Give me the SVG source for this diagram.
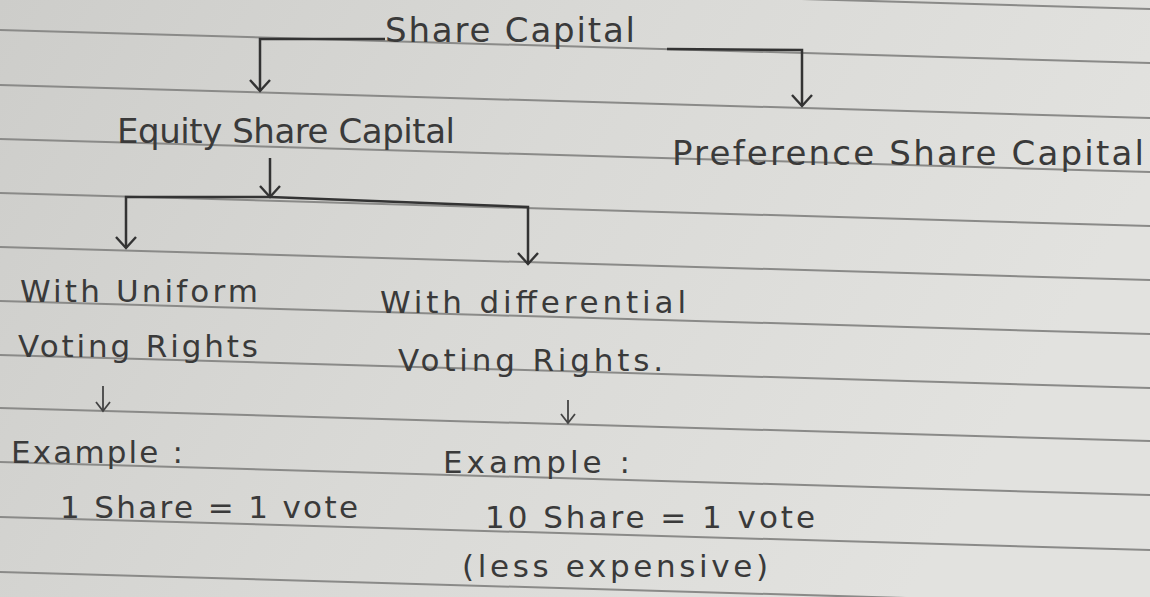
<svg xmlns="http://www.w3.org/2000/svg" width="1150" height="597" viewBox="0 0 1150 597">
<defs>
<linearGradient id="paper" x1="0" y1="0" x2="1" y2="0.3">
<stop offset="0" stop-color="#cdcdca"/>
<stop offset="0.5" stop-color="#d9d9d6"/>
<stop offset="1" stop-color="#e2e2df"/>
</linearGradient>
<marker id="arr" markerWidth="26" markerHeight="26" refX="13" refY="13" orient="auto" markerUnits="userSpaceOnUse">
<path d="M2,3 L13,13 L2,23" fill="none" stroke="#333" stroke-width="2.4"/>
</marker>
<marker id="arrs" markerWidth="20" markerHeight="20" refX="10" refY="10" orient="auto" markerUnits="userSpaceOnUse">
<path d="M1,3 L10,10 L1,17" fill="none" stroke="#444" stroke-width="1.8"/>
</marker>
<style>
.t{font-family:"DejaVu Sans","Liberation Sans",sans-serif;fill:#3a3a3a;font-size:31px}
.big{font-size:34px}
.rule{stroke:#8a8a88;stroke-width:2;fill:none}
.c{stroke:#333;stroke-width:2.5;fill:none}
.s{stroke:#444;stroke-width:1.8;fill:none}
</style>
</defs>
<rect width="1150" height="597" fill="url(#paper)"/>
<g id="rules">
<line class="rule" x1="0" y1="-24" x2="1150" y2="9"/>
<line class="rule" x1="0" y1="30" x2="1150" y2="63"/>
<line class="rule" x1="0" y1="85" x2="1150" y2="118"/>
<line class="rule" x1="0" y1="139" x2="1150" y2="172"/>
<line class="rule" x1="0" y1="193" x2="1150" y2="226"/>
<line class="rule" x1="0" y1="247" x2="1150" y2="280"/>
<line class="rule" x1="0" y1="301" x2="1150" y2="334"/>
<line class="rule" x1="0" y1="355" x2="1150" y2="388"/>
<line class="rule" x1="0" y1="408" x2="1150" y2="441"/>
<line class="rule" x1="0" y1="462" x2="1150" y2="495"/>
<line class="rule" x1="0" y1="517" x2="1150" y2="550"/>
<line class="rule" x1="0" y1="572" x2="1150" y2="605"/>
</g>
<g id="connectors">
<path class="c" d="M385,39 L260,39 L260,91" marker-end="url(#arr)"/>
<path class="c" d="M667,49 L802,50 L802,106" marker-end="url(#arr)"/>
<path class="c" d="M270,158 L270,197" marker-end="url(#arr)"/>
<path class="c" d="M270,197 L126,197 L126,248" marker-end="url(#arr)"/>
<path class="c" d="M270,197 L528,207 L528,264" marker-end="url(#arr)"/>
<path class="s" d="M103,386 L103,411" marker-end="url(#arrs)"/>
<path class="s" d="M568,400 L568,423" marker-end="url(#arrs)"/>
</g>
<g id="share-capital"><text class="t big" x="385" y="42" textLength="250">Share Capital</text></g>
<g id="equity"><text class="t big" x="117" y="143" textLength="338">Equity Share Capital</text></g>
<g id="preference"><text class="t big" x="672" y="165" textLength="472">Preference Share Capital</text></g>
<g id="uniform">
<text class="t" x="20" y="302" textLength="238">With Uniform</text>
<text class="t" x="18" y="357" textLength="240">Voting Rights</text>
</g>
<g id="differential">
<text class="t" x="380" y="313" textLength="306">With differential</text>
<text class="t" x="398" y="371" textLength="265">Voting Rights.</text>
</g>
<g id="example-uniform">
<text class="t" x="11" y="463" textLength="172">Example :</text>
<text class="t" x="60" y="518" textLength="298">1 Share = 1 vote</text>
</g>
<g id="example-differential">
<text class="t" x="443" y="473" textLength="187">Example :</text>
<text class="t" x="485" y="528" textLength="330">10 Share = 1 vote</text>
<text class="t" x="462" y="577" textLength="306">(less expensive)</text>
</g>
</svg>
